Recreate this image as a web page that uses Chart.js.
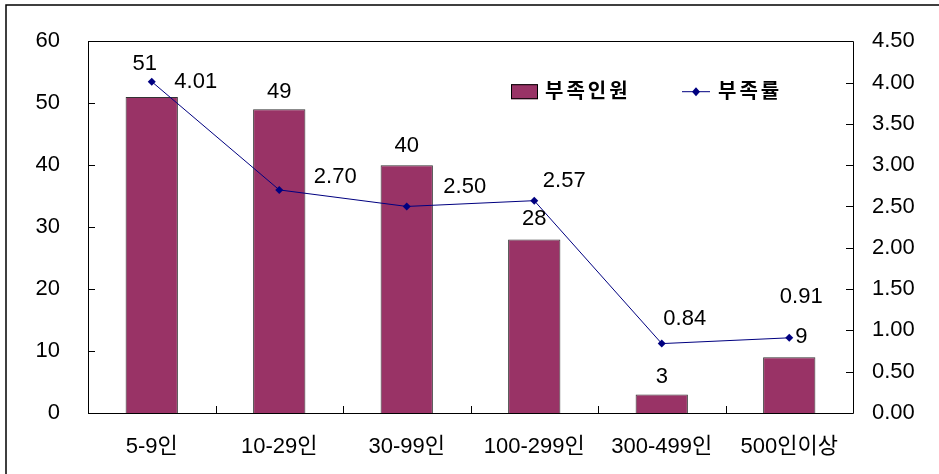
<!DOCTYPE html>
<html>
<head>
<meta charset="utf-8">
<script src="https://cdn.jsdelivr.net/npm/chart.js@4"></script>
<style>
  html, body { margin: 0; padding: 0; background: #ffffff; }
  #wrap { width: 939px; height: 474px; position: relative; }
</style>
</head>
<body>
<div id="wrap"><canvas id="c" width="939" height="474"></canvas></div>
<script>
// 사업체 규모별 부족인원 / 부족률
const categories = ['5-9인', '10-29인', '30-99인', '100-299인', '300-499인', '500인이상'];
const shortageCount = [51, 49, 40, 28, 3, 9];          // 부족인원 (left axis)
const shortageRate = [4.01, 2.70, 2.50, 2.57, 0.84, 0.91]; // 부족률 (right axis)
const seriesNames = ['부족인원', '부족률'];

const BAR_COLOR = '#993366';
const LINE_COLOR = '#000080';
const NUM_FONT = "'Liberation Sans', Arial, sans-serif";
const KR_FONT = "'Liberation Sans', 'Noto Sans CJK KR', sans-serif";

// label nudges (px) relative to the top of each bar / each line point
const barLabelNudge = [[-7, -33], [0, -17], [0, -19], [0, -21], [0, -17], [12, -20]];
const rateLabelNudge = [[44, 0], [56, -13], [58, -20], [30, -20], [23, -25], [12, -41]];

const framePlugin = {
  id: 'frame',
  beforeDraw(chart) {
    const ctx = chart.ctx;
    ctx.save();
    ctx.fillStyle = '#ffffff';
    ctx.fillRect(0, 0, chart.width, chart.height);
    // outer border
    ctx.strokeStyle = '#000000';
    ctx.lineWidth = 1.5;
    ctx.beginPath();
    ctx.moveTo(6, chart.height);
    ctx.lineTo(6, 5);
    ctx.lineTo(chart.width, 5);
    ctx.stroke();
    ctx.restore();
  },
  afterDatasetsDraw(chart) {
    const ctx = chart.ctx;
    const a = chart.chartArea;
    const y = chart.scales.y, y2 = chart.scales.y2;
    ctx.save();
    ctx.strokeStyle = '#000000';
    ctx.lineWidth = 1;
    ctx.beginPath();
    ctx.rect(Math.round(a.left) + 0.5, Math.round(a.top) + 0.5,
             Math.round(a.right - a.left), Math.round(a.bottom - a.top));
    ctx.stroke();
    ctx.beginPath();
    y.ticks.forEach(t => {
      const py = Math.round(y.getPixelForValue(t.value)) + 0.5;
      ctx.moveTo(a.left, py); ctx.lineTo(a.left + 7, py);
    });
    y2.ticks.forEach(t => {
      const py = Math.round(y2.getPixelForValue(t.value)) + 0.5;
      ctx.moveTo(a.right - 7, py); ctx.lineTo(a.right, py);
    });
    const n = categories.length;
    const step = (a.right - a.left) / n;
    for (let i = 1; i < n; i++) {
      const px = Math.round(a.left + step * i) + 0.5;
      ctx.moveTo(px, a.bottom); ctx.lineTo(px, a.bottom - 7);
    }
    ctx.stroke();
    ctx.restore();
  }
};

const labelPlugin = {
  id: 'valueLabels',
  afterDraw(chart) {
    const ctx = chart.ctx;
    ctx.save();
    ctx.fillStyle = '#000000';
    ctx.font = '22px ' + NUM_FONT;
    ctx.textAlign = 'center';
    ctx.textBaseline = 'middle';
    const barMeta = chart.getDatasetMeta(1);
    barMeta.data.forEach((el, i) => {
      const [dx, dy] = barLabelNudge[i];
      ctx.fillText(String(shortageCount[i]), el.x + dx, el.y + dy);
    });
    const lineMeta = chart.getDatasetMeta(0);
    lineMeta.data.forEach((el, i) => {
      const [dx, dy] = rateLabelNudge[i];
      ctx.fillText(shortageRate[i].toFixed(2), el.x + dx, el.y + dy);
    });

    // legend
    const a = chart.chartArea;
    const lx = a.left + 423, ly = a.top + 50;
    ctx.fillStyle = BAR_COLOR;
    ctx.fillRect(lx, ly - 7, 27, 15);
    ctx.strokeStyle = '#000000';
    ctx.lineWidth = 1;
    ctx.strokeRect(lx + 0.5, ly - 6.5, 26, 14);
    ctx.fillStyle = '#000000';
    ctx.font = '600 20px ' + KR_FONT;
    ctx.textAlign = 'left';
    if ('letterSpacing' in ctx) ctx.letterSpacing = '3px';
    ctx.fillText(seriesNames[0], lx + 34, ly + 1);
    const mx = lx + 171;
    ctx.strokeStyle = LINE_COLOR;
    ctx.beginPath();
    ctx.moveTo(mx, ly + 0.5); ctx.lineTo(mx + 28, ly + 0.5);
    ctx.stroke();
    ctx.fillStyle = LINE_COLOR;
    ctx.beginPath();
    ctx.moveTo(mx + 14, ly - 4); ctx.lineTo(mx + 18, ly + 0.5);
    ctx.lineTo(mx + 14, ly + 5); ctx.lineTo(mx + 10, ly + 0.5);
    ctx.closePath(); ctx.fill();
    ctx.fillStyle = '#000000';
    ctx.fillText(seriesNames[1], mx + 36, ly + 1);
    ctx.restore();
  }
};

new Chart(document.getElementById('c'), {
  data: {
    labels: categories,
    datasets: [
      {
        type: 'line',
        label: seriesNames[1],
        data: shortageRate,
        yAxisID: 'y2',
        borderColor: LINE_COLOR,
        backgroundColor: LINE_COLOR,
        borderWidth: 1,
        pointStyle: 'rectRot',
        pointRadius: 4,
        pointBorderWidth: 0,
        tension: 0,
        order: 0
      },
      {
        type: 'bar',
        label: seriesNames[0],
        data: shortageCount,
        yAxisID: 'y',
        backgroundColor: BAR_COLOR,
        borderColor: '#333333',
        borderWidth: 1,
        categoryPercentage: 1,
        barPercentage: 0.41,
        order: 1
      }
    ]
  },
  options: {
    responsive: false,
    devicePixelRatio: 1,
    animation: false,
    layout: { padding: { top: 40, left: 0, right: 0, bottom: 0 } },
    plugins: { legend: { display: false }, tooltip: { enabled: false } },
    scales: {
      x: {
        grid: { display: false, drawTicks: false },
        border: { display: false },
        ticks: { color: '#000000', font: { family: KR_FONT, size: 22 }, padding: 21, maxRotation: 0, autoSkip: false },
        afterFit(s) { s.height = 61; }
      },
      y: {
        position: 'left',
        min: 0, max: 60,
        grid: { display: false, drawTicks: false },
        border: { display: false },
        ticks: { stepSize: 10, color: '#000000', font: { family: NUM_FONT, size: 22 }, padding: 28 },
        afterFit(s) { s.width = 88; }
      },
      y2: {
        position: 'right',
        min: 0, max: 4.5,
        grid: { display: false, drawTicks: false },
        border: { display: false },
        ticks: { stepSize: 0.5, color: '#000000', font: { family: NUM_FONT, size: 22 }, padding: 19,
                 callback: v => Number(v).toFixed(2) },
        afterFit(s) { s.width = 86; }
      }
    }
  },
  plugins: [framePlugin, labelPlugin]
});
</script>
</body>
</html>
